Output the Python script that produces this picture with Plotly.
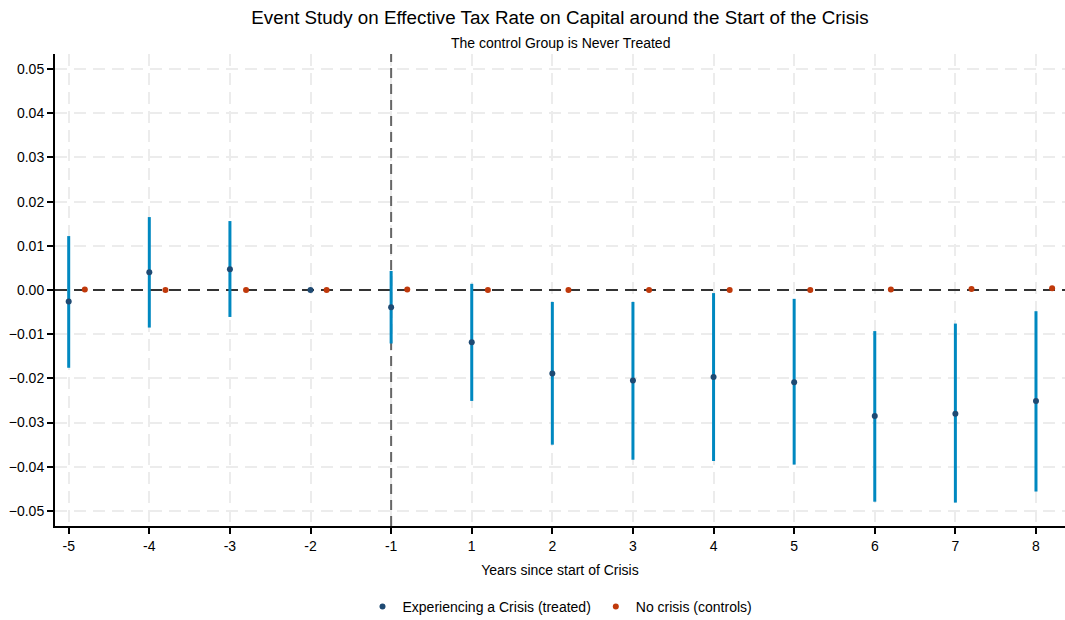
import plotly.graph_objects as go

categories = ["-5", "-4", "-3", "-2", "-1", "1", "2", "3", "4", "5", "6", "7", "8"]
treated_est = [-0.0026, 0.0040, 0.0047, 0.0000, -0.0039, -0.0118, -0.0189, -0.0205, -0.0197, -0.0209, -0.0285, -0.0280, -0.0251]
treated_hi = [0.0122, 0.0165, 0.0156, 0.0000, 0.0043, 0.0014, -0.0027, -0.0027, -0.0007, -0.0020, -0.0093, -0.0076, -0.0048]
treated_lo = [-0.0176, -0.0085, -0.0061, 0.0000, -0.0121, -0.0251, -0.0350, -0.0384, -0.0387, -0.0395, -0.0479, -0.0481, -0.0456]
control_est = [0.0001, 0.0000, 0.0000, 0.0000, 0.0001, 0.0000, 0.0000, 0.0000, 0.0000, 0.0000, 0.0001, 0.0002, 0.0004]
y_ticks = [-0.05, -0.04, -0.03, -0.02, -0.01, 0.0, 0.01, 0.02, 0.03, 0.04, 0.05]

idx = list(range(len(categories)))
offset = 0.2
x_range = [-0.17, 12.36]
y_range = [-0.0534, 0.0534]
err_plus = [h - e for h, e in zip(treated_hi, treated_est)]
err_minus = [e - l for e, l in zip(treated_est, treated_lo)]
event_x = categories.index("-1")

FONT = "Liberation Sans, Arial, sans-serif"

fig = go.Figure()
# reference lines (drawn first so they sit beneath the estimates)
fig.add_trace(go.Scatter(x=x_range, y=[0, 0], mode="lines", showlegend=False, hoverinfo="skip",
                         line=dict(color="#333333", width=2, dash="12px,7px")))
fig.add_trace(go.Scatter(x=[event_x, event_x], y=y_range, mode="lines", showlegend=False, hoverinfo="skip",
                         line=dict(color="#666666", width=2, dash="10px,6px")))
fig.add_trace(go.Scatter(
    x=idx, y=treated_est, mode="markers", name="Experiencing a Crisis (treated)",
    marker=dict(color="#1f4a73", size=6),
    error_y=dict(type="data", array=err_plus, arrayminus=err_minus, symmetric=False,
                 color="#0088c0", thickness=3, width=0),
))
fig.add_trace(go.Scatter(
    x=[i + offset for i in idx], y=control_est, mode="markers", name="No crisis (controls)",
    marker=dict(color="#c0390b", size=6),
))

grid = dict(showgrid=True, gridcolor="#ececec", gridwidth=2, griddash="12px,7px")

fig.update_layout(
    width=1065, height=620,
    margin=dict(l=55, r=0, t=54, b=94, autoexpand=False),
    paper_bgcolor="white", plot_bgcolor="white",
    font=dict(family=FONT, size=14, color="black"),
    title=dict(text="Event Study on Effective Tax Rate on Capital around the Start of the Crisis",
               x=0.5, xref="paper", y=1 - 17 / 620, yanchor="middle",
               font=dict(size=18.8, color="black", family=FONT)),
    showlegend=True,
    legend=dict(orientation="h", x=0.5, xanchor="center", xref="paper",
                y=(620 - 607) / 620, yref="container", yanchor="middle",
                font=dict(size=14), itemwidth=30, tracegroupgap=0),
    xaxis=dict(range=x_range, tickmode="array", tickvals=idx, ticktext=categories,
               showline=True, linecolor="black", linewidth=2, ticks="outside",
               ticklen=6, tickwidth=2, tickcolor="black", zeroline=False, automargin=False,
               title=dict(text="Years since start of Crisis", font=dict(size=14), standoff=12),
               **grid),
    yaxis=dict(range=y_range, tickmode="array", tickvals=y_ticks, tickformat=".2f",
               showline=True, linecolor="black", linewidth=2, ticks="outside", automargin=False,
               ticklen=6, tickwidth=2, tickcolor="black", zeroline=False, **grid),
)
fig.add_annotation(text="The control Group is Never Treated", xref="paper", yref="paper",
                   x=0.5, y=1, yshift=11, showarrow=False, yanchor="middle",
                   font=dict(size=14, color="black", family=FONT))

fig.write_html("out.html")
